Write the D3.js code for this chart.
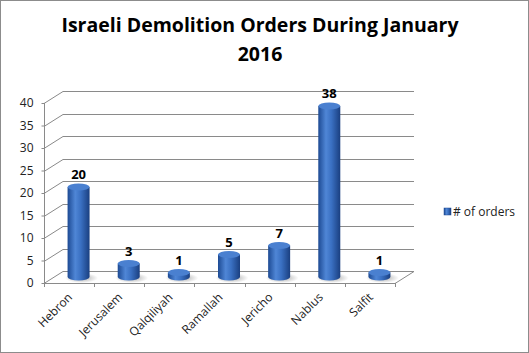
<!DOCTYPE html>
<html>
<head>
<meta charset="utf-8">
<script src="https://cdn.jsdelivr.net/npm/d3@7"></script>
<style>
  body { margin: 0; background: #fff; }
  svg { display: block; }
</style>
</head>
<body>
<div id="chart"></div>
<script>
// values
const cities = ["Hebron", "Jerusalem", "Qalqiliyah", "Ramallah", "Jericho", "Nablus", "Salfit"];
const orders = [20, 3, 1, 5, 7, 38, 1];
const yTicks = [0, 5, 10, 15, 20, 25, 30, 35, 40];
const seriesName = "# of orders";
const titleLines = ["Israeli Demolition Orders During January", "2016"];

const W = 529, H = 353;
const plotL = 44, plotR = 395, plotB = 283, plotT = 103;
const dx = 19, dy = -12; // 3D depth offset

const svg = d3.select("#chart").append("svg")
  .attr("width", W).attr("height", H);

// outer border
svg.append("rect")
  .attr("x", 0.5).attr("y", 0.5)
  .attr("width", W - 1).attr("height", H - 1)
  .attr("fill", "#fff").attr("stroke", "#8c8c8c");

const defs = svg.append("defs");
const grad = defs.append("linearGradient").attr("id", "cyl")
  .attr("x1", "0%").attr("x2", "100%").attr("y1", "0%").attr("y2", "0%");
grad.append("stop").attr("offset", "0%").attr("stop-color", "#1d4a93");
grad.append("stop").attr("offset", "35%").attr("stop-color", "#4f86d6");
grad.append("stop").attr("offset", "60%").attr("stop-color", "#3a70c2");
grad.append("stop").attr("offset", "100%").attr("stop-color", "#1a3f80");

const shadow = defs.append("radialGradient").attr("id", "shad");
shadow.append("stop").attr("offset", "0%").attr("stop-color", "#000").attr("stop-opacity", 0.35);
shadow.append("stop").attr("offset", "100%").attr("stop-color", "#000").attr("stop-opacity", 0);

const x = d3.scaleBand().domain(cities).range([plotL, plotR]);
const y = d3.scaleLinear().domain([0, 40]).range([plotB, plotT]);

// title
svg.append("text")
  .attr("text-anchor", "middle")
  .style("font-family", "'Open Sans', sans-serif")
  .style("font-weight", "bold")
  .style("font-size", "19.5px")
  .selectAll("tspan").data(titleLines).enter().append("tspan")
  .attr("x", 260)
  .attr("y", (d, i) => 32 + i * 29)
  .text(d => d);

// grid: left wall diagonals + back wall lines
const grid = svg.append("g").attr("stroke", "#8a8a8a").attr("stroke-width", 1).attr("fill", "none");
yTicks.forEach(t => {
  const yy = Math.round(y(t)) + 0.5;
  grid.append("path")
    .attr("d", `M${plotL},${yy}L${plotL + dx},${yy + dy}L${plotR + dx},${yy + dy}`);
});
// floor outline
grid.append("path")
  .attr("d", `M${plotL},${plotB + 0.5}L${plotR},${plotB + 0.5}L${plotR + dx},${plotB + 0.5 + dy}`);
// vertical axis
grid.append("line")
  .attr("x1", plotL + 0.5).attr("x2", plotL + 0.5)
  .attr("y1", y(40)).attr("y2", plotB);

// y axis
const yAxis = svg.append("g")
  .attr("transform", `translate(${plotL + 0.5},0)`)
  .call(d3.axisLeft(y).tickValues(yTicks).tickSize(3).tickPadding(8));
yAxis.select(".domain").remove();
yAxis.selectAll("line").attr("stroke", "#8a8a8a");
yAxis.selectAll("text")
  .style("font-family", "'Open Sans', sans-serif")
  .style("font-size", "12px").attr("fill", "#222");

// x axis ticks at band edges
const edges = cities.map(c => x(c)).concat([plotR]);
svg.append("g").selectAll("line").data(edges).enter().append("line")
  .attr("x1", d => Math.round(d) + 0.5).attr("x2", d => Math.round(d) + 0.5)
  .attr("y1", plotB).attr("y2", plotB + 4)
  .attr("stroke", "#8a8a8a");

svg.append("g").selectAll("text").data(cities).enter().append("text")
  .attr("transform", d => `translate(${x(d) + x.bandwidth() / 2 + 1},${plotB + 12}) rotate(-45)`)
  .attr("text-anchor", "end")
  .attr("dy", "0.35em")
  .style("font-family", "'Open Sans', sans-serif")
  .style("font-size", "12px").attr("fill", "#222")
  .text(d => d);

// cylinders
const bw = 22, ry = 3.5;
const bars = svg.append("g").selectAll("g").data(cities).enter().append("g");
const cx = d => x(d) + x.bandwidth() / 2 + dx / 2;
const base = y(0) + dy / 2;
const topY = (d, i) => y(orders[i]) + dy / 2;

bars.append("ellipse")
  .attr("cx", d => cx(d) + 3).attr("cy", base + 1)
  .attr("rx", bw * 0.75).attr("ry", 5)
  .attr("fill", "url(#shad)");
bars.append("path")
  .attr("d", (d, i) => {
    const c = cx(d), t = topY(d, i);
    return `M${c - bw / 2},${t}L${c - bw / 2},${base}A${bw / 2},${ry} 0 0 0 ${c + bw / 2},${base}L${c + bw / 2},${t}Z`;
  })
  .attr("fill", "url(#cyl)");
bars.append("ellipse")
  .attr("cx", d => cx(d)).attr("cy", topY)
  .attr("rx", bw / 2).attr("ry", ry)
  .attr("fill", "#4a80d0");

// value labels
svg.append("g").selectAll("text").data(cities).enter().append("text")
  .attr("x", d => cx(d))
  .attr("y", (d, i) => topY(d, i) - 8)
  .attr("text-anchor", "middle")
  .style("font-family", "'Open Sans', sans-serif")
  .style("font-weight", "bold")
  .style("font-size", "13px")
  .text((d, i) => orders[i]);

// legend
const lg = svg.append("g").attr("transform", "translate(444,208)");
lg.append("rect").attr("width", 7).attr("height", 7).attr("fill", "url(#cyl)").attr("stroke", "#1d4a93").attr("stroke-width", 0.5);
lg.append("text").attr("x", 9).attr("y", 8)
  .style("font-family", "'Open Sans', sans-serif")
  .style("font-size", "12px").attr("fill", "#222")
  .text(seriesName);
</script>
</body>
</html>
